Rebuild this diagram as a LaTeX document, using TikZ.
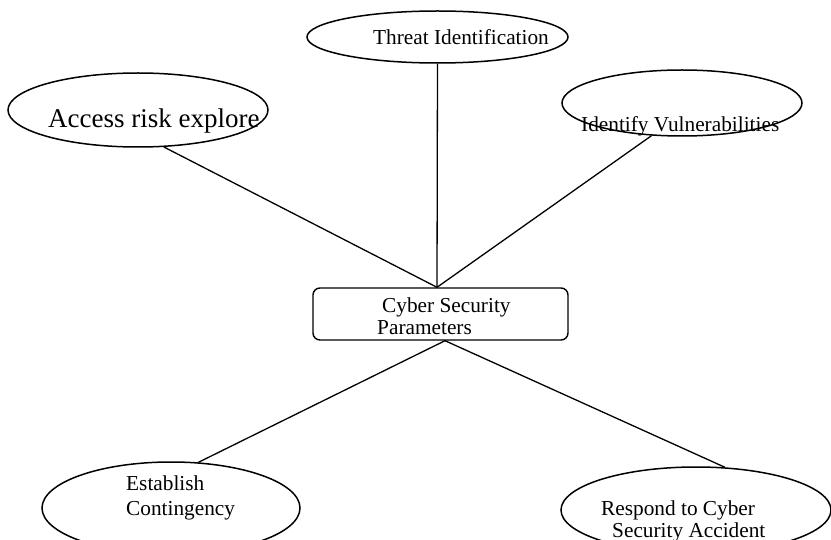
\documentclass[tikz,border=0pt]{standalone}
\usepackage{fontspec}
\setmainfont{Liberation Serif}
\usetikzlibrary{shapes.geometric}
\tikzset{
  oval/.style={draw, ellipse, line width=1.5pt, inner sep=0pt},
  boxnode/.style={draw, rectangle, rounded corners=7pt, line width=1.4pt, inner sep=0pt},
  lbl/.style={anchor=base west, inner sep=0pt, font=\fontsize{21.3}{23}\selectfont},
  biglbl/.style={anchor=base west, inner sep=0pt, font=\fontsize{27}{29}\selectfont},
  link/.style={line width=1.3pt}
}
\begin{document}
\begin{tikzpicture}[x=1pt,y=-1pt]
\clip (0,0) rectangle (831,540);
\fill[white] (0,0) rectangle (831,540);
% shapes
\node[oval, minimum width=261pt, minimum height=52pt] (thr) at (437.5,37) {};
\node[oval, minimum width=260pt, minimum height=74pt] (acc) at (138,110) {};
\node[oval, minimum width=240pt, minimum height=66pt] (idv) at (682,103) {};
\node[boxnode, minimum width=255pt, minimum height=52pt] (cyb) at (440.5,314) {};
\node[oval, minimum width=258pt, minimum height=92pt] (est) at (171,508) {};
\node[oval, minimum width=270pt, minimum height=86pt] (rsp) at (696,510) {};
% connectors
\draw[link] (thr.south) -- ([xshift=-3.5pt]cyb.north);
\draw[link] (acc.-55) -- ([xshift=-3.5pt]cyb.north);
\draw[link] (idv.-133) -- ([xshift=-3.5pt]cyb.north);
\draw[link] ([xshift=4.5pt]cyb.south) -- (est.59);
\draw[link] ([xshift=4.5pt]cyb.south) -- (rsp.56);
% texts
\node[lbl] (tthr) at (373,45) {Threat Identification};
\node[biglbl] (tacc) at (48,128) {Access risk explore};
\node[lbl] (tidv) at (581,132) {Identify Vulnerabilities};
\node[lbl] (tcyb1) at (382,313) {Cyber Security};
\node[lbl] (tcyb2) at (377,335) {Parameters};
\node[lbl] (test1) at (126,490) {Establish};
\node[lbl] (test2) at (126,515) {Contingency};
\node[lbl] (trsp1) at (601,515) {Respond to Cyber};
\node[lbl] (trsp2) at (612,537) {Security Accident};
\end{tikzpicture}
\end{document}
